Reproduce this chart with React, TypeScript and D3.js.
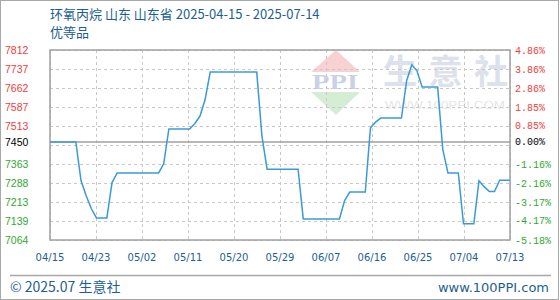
import React from "react";
import * as d3 from "d3";

// Daily price, 环氧丙烷 (山东省, 优等品), 2025-04-15 .. 2025-07-14
const prices: number[] = [
  7450, 7450, 7450, 7450, 7450, 7450, 7298, 7238, 7187, 7151,
  7151, 7151, 7290, 7328, 7328, 7328, 7328, 7328, 7328, 7328,
  7328, 7328, 7364, 7501, 7501, 7501, 7501, 7501, 7522, 7551,
  7616, 7725, 7725, 7725, 7725, 7725, 7725, 7725, 7725, 7725,
  7725, 7474, 7343, 7343, 7343, 7343, 7343, 7343, 7343, 7147,
  7147, 7147, 7147, 7147, 7147, 7147, 7147, 7219, 7253, 7253,
  7253, 7253, 7506, 7528, 7544, 7544, 7544, 7544, 7544, 7691,
  7754, 7730, 7666, 7666, 7666, 7666, 7420, 7328, 7328, 7328,
  7128, 7128, 7128, 7297, 7274, 7255, 7255, 7299, 7299, 7299,
];

const basePrice = 7450;
const yMin = 7064;
const yMax = 7812;

const priceLabels: number[] = [7812, 7737, 7662, 7587, 7513, 7450, 7363, 7288, 7213, 7139, 7064];
const pctLabels: string[] = [
  "4.86%", "3.86%", "2.86%", "1.85%", "0.85%", "0.00%",
  "-1.16%", "-2.16%", "-3.17%", "-4.17%", "-5.18%",
];
const xTickLabels: string[] = [
  "04/15", "04/23", "05/02", "05/11", "05/20", "05/29",
  "06/07", "06/16", "06/25", "07/04", "07/13",
];

const titleLine1 = "环氧丙烷 山东 山东省 2025-04-15 - 2025-07-14";
const titleLine2 = "优等品";
const brandChars: string[] = ["生", "意", "社"];

const W = 560;
const H = 300;
const plot = { left: 50, right: 510, top: 50, bottom: 240 };

const CJK = "'Noto Sans CJK SC', 'Noto Sans', sans-serif";
const BLUE_TEXT = "#1d5f92";
const RED = "#f03c3c";
const GREEN = "#2fa82f";
const crisp = (v: number) => Math.round(v) + 0.5;

function labelColor(v: number) {
  if (v > basePrice) return RED;
  if (v < basePrice) return GREEN;
  return "#000";
}

export default function App() {
  const x = d3
    .scaleLinear()
    .domain([0, prices.length - 1])
    .range([plot.left, plot.right]);
  const xTicks = d3
    .scalePoint<string>()
    .domain(xTickLabels)
    .range([plot.left, plot.right]);
  const y = d3.scaleLinear().domain([yMin, yMax]).range([plot.bottom, plot.top]);

  // ten equal bands across the value range
  const gridValues = d3.range(11).map((i) => yMin + ((yMax - yMin) * i) / 10);

  // brand watermark glyph centres
  const brandX = d3.scalePoint<string>().domain(brandChars).range([400, 491]);

  const line = d3
    .line<number>()
    .x((_, i) => x(i))
    .y((d) => y(d));

  return (
    <div style={{ position: "fixed", left: 0, top: 0 }}>
      <svg width={W} height={H} style={{ display: "block", background: "#fff" }}>
        {/* outer frame */}
        <rect x={0.5} y={0.5} width={558} height={299} fill="none" stroke="#a8a8a8" />

        {/* title */}
        <text x={50} y={19} fontFamily={CJK} fontSize={13} fill={BLUE_TEXT}>
          {titleLine1}
        </text>
        <text x={50} y={37} fontFamily={CJK} fontSize={13} fill={BLUE_TEXT}>
          {titleLine2}
        </text>

        {/* watermark */}
        <g>
          <polygon points="311,72 336,50 360,72" fill="#f8d2d2" />
          <text
            x={312}
            y={89}
            fontFamily="'Liberation Serif', serif"
            fontWeight="bold"
            fontSize={21}
            fill="#c9d2e5"
            textLength={46}
            lengthAdjust="spacingAndGlyphs"
          >
            PPI
          </text>
          <polygon points="311,92 360,92 336,115" fill="#d5edd5" />
          {brandChars.map((c) => (
            <text
              key={c}
              x={brandX(c)}
              y={84}
              textAnchor="middle"
              fontFamily={CJK}
              fontWeight="bold"
              fontSize={34}
              fill="#dce1eb"
            >
              {c}
            </text>
          ))}
          <text
            x={385}
            y={109}
            fontFamily="'Liberation Sans', Arial, sans-serif"
            fontSize={11}
            fill="#e6e6e6"
            textLength={120}
            lengthAdjust="spacingAndGlyphs"
          >
            WWW.100PPI.COM
          </text>
        </g>

        {/* grid */}
        <g stroke="#c8c8c8" strokeDasharray="3,3" strokeWidth={1}>
          {gridValues.map((v, i) => (
            <line key={"h" + i} x1={plot.left} x2={plot.right} y1={crisp(y(v))} y2={crisp(y(v))} />
          ))}
          {xTickLabels.map((t) => (
            <line key={"v" + t} x1={crisp(xTicks(t)!)} x2={crisp(xTicks(t)!)} y1={plot.top} y2={plot.bottom} />
          ))}
        </g>

        {/* base price line */}
        <line
          x1={plot.left}
          x2={plot.right}
          y1={y(basePrice)}
          y2={y(basePrice)}
          stroke="#a0a0a0"
          strokeWidth={1.5}
        />

        {/* plot frame */}
        <rect
          x={plot.left}
          y={plot.top}
          width={plot.right - plot.left}
          height={plot.bottom - plot.top}
          fill="none"
          stroke="#a0a0a0"
          strokeWidth={1.5}
        />

        {/* price line */}
        <path d={line(prices) ?? ""} fill="none" stroke="#3a9ad9" strokeWidth={1.5} />

        {/* left axis: price */}
        {priceLabels.map((v) => (
          <text
            key={"l" + v}
            x={5}
            y={y(v)}
            dy="0.35em"
            fontFamily="'Liberation Sans', Arial, sans-serif"
            fontSize={10.5}
            fill={labelColor(v)}
          >
            {v}
          </text>
        ))}

        {/* right axis: change vs base */}
        {priceLabels.map((v, i) => (
          <text
            key={"r" + v}
            x={515}
            y={y(v)}
            dy="0.35em"
            fontFamily="'Liberation Mono', 'DejaVu Sans Mono', monospace"
            fontSize={10}
            fill={labelColor(v)}
          >
            {pctLabels[i]}
          </text>
        ))}

        {/* x axis */}
        {xTickLabels.map((t) => (
          <text
            key={"x" + t}
            x={xTicks(t)}
            y={257}
            dy="0.35em"
            textAnchor="middle"
            fontFamily="'DejaVu Sans', sans-serif"
            fontSize={10}
            fill={BLUE_TEXT}
          >
            {t}
          </text>
        ))}

        {/* footer */}
        <line x1={10} x2={551} y1={275.5} y2={275.5} stroke="#a8a8a8" strokeWidth={1.5} />
        <text x={10} y={292} fontFamily={CJK} fontSize={14} fill={BLUE_TEXT}>
          © 2025.07 生意社
        </text>
        <text
          x={549}
          y={292}
          textAnchor="end"
          fontFamily="'DejaVu Sans', sans-serif"
          fontSize={13}
          fill={BLUE_TEXT}
        >
          www.100PPI.com
        </text>
      </svg>
    </div>
  );
}
